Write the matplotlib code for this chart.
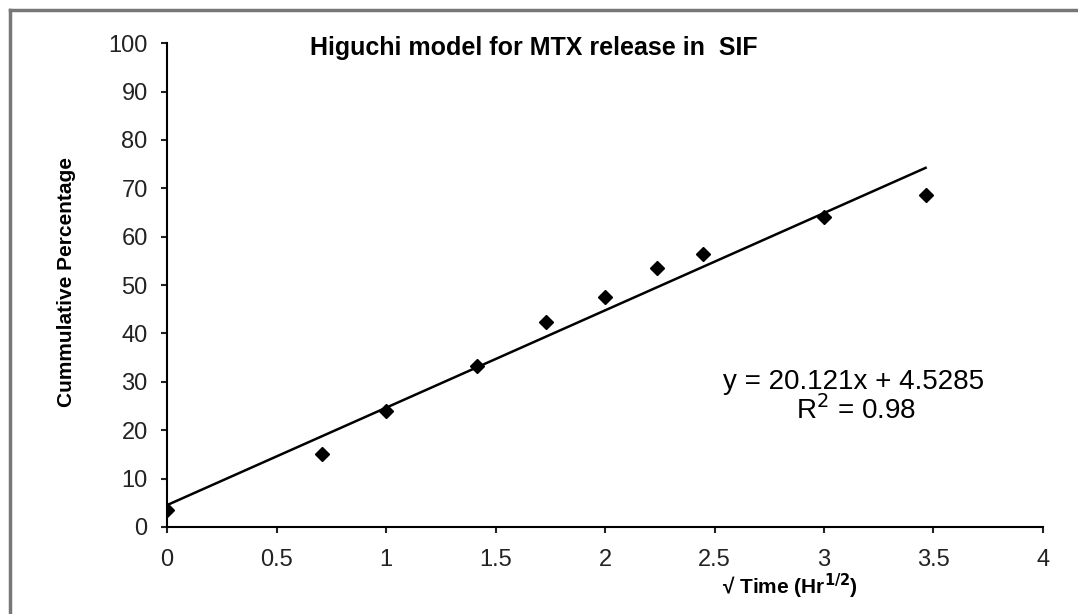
import numpy as np
import matplotlib
matplotlib.use("Agg")
import matplotlib.pyplot as plt
from matplotlib.lines import Line2D

# square root of time (hr^1/2) and cumulative release (%)
sqrt_time = [0, 0.707, 1, 1.414, 1.732, 2, 2.236, 2.449, 3, 3.464]
cum_pct = [3.5, 15, 24, 33.3, 42.3, 47.5, 53.5, 56.4, 64, 68.6]

# linear trend reported in the chart
slope = 20.121
intercept = 4.5285
r_squared = 0.98

x_ticks = [0, 0.5, 1, 1.5, 2, 2.5, 3, 3.5, 4]
x_tick_labels = ["0", "0.5", "1", "1.5", "2", "2.5", "3", "3.5", "4"]
y_ticks = [0, 10, 20, 30, 40, 50, 60, 70, 80, 90, 100]

plt.rcParams['font.family'] = ['Liberation Sans', 'DejaVu Sans']

fig = plt.figure(figsize=(10.78, 6.14), dpi=100)
ax = fig.add_axes([0.155, 0.1417, 0.8125, 0.788])

# outer gray frame (only top and left edges are visible)
fig.add_artist(Line2D([10 / 1078, 10 / 1078], [0, 1 - 10 / 614],
                      transform=fig.transFigure, color='#777777', lw=2.5))
fig.add_artist(Line2D([10 / 1078, 1], [1 - 10 / 614, 1 - 10 / 614],
                      transform=fig.transFigure, color='#777777', lw=2.5))

fit_x = np.array([0, sqrt_time[-1]])
ax.plot(fit_x, slope * fit_x + intercept, color='black', lw=1.8)
ax.plot(sqrt_time, cum_pct, linestyle='none', marker='D', markersize=7,
        color='black')

ax.set_xlim(0, 4)
ax.set_ylim(0, 100)
ax.set_xticks(x_ticks)
ax.set_xticklabels(x_tick_labels)
ax.set_yticks(y_ticks)

for side in ['top', 'right']:
    ax.spines[side].set_visible(False)
for side in ['left', 'bottom']:
    ax.spines[side].set_linewidth(1.5)
ax.tick_params(direction='out', length=4, width=1.5, labelsize=17,
               colors='#222222')
ax.tick_params(axis='x', pad=12)
ax.tick_params(axis='y', pad=10)

fig.text(534 / 1078, 1 - 48 / 614, "Higuchi model for MTX release in  SIF",
         ha='center', va='center', fontsize=18, fontweight='bold')

fig.text(67 / 1078, 1 - 282 / 614, "Cummulative Percentage", rotation=90,
         ha='center', va='center', fontsize=15, fontweight='bold',
         family=['Liberation Sans Narrow', 'Liberation Sans', 'DejaVu Sans'])

fig.text(790 / 1078, 1 - 594 / 614, "√ Time (Hr$^{\\mathbf{1/2}}$)",
         ha='center', va='baseline', fontsize=15, fontweight='bold')

eq_kw = dict(ha='center', va='center', fontsize=20)
fig.text(854 / 1078, 1 - 382 / 614, f"y = {slope}x + {intercept}", **eq_kw)
fig.text(856 / 1078, 1 - 410 / 614, f"R$^2$ = {r_squared}", **eq_kw)

fig.savefig("out.png", dpi=100)
